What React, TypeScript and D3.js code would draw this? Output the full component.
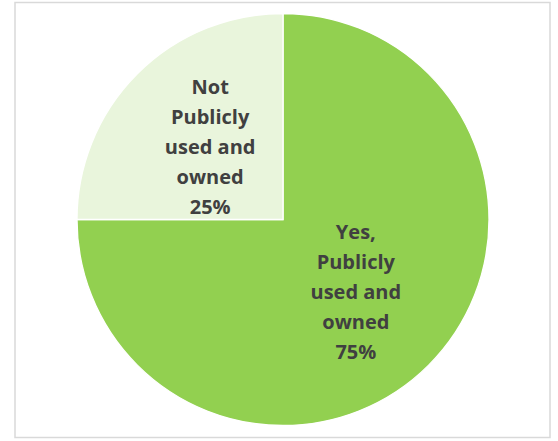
import React from "react";
import * as d3 from "d3";

const categories = ["Yes,\nPublicly\nused and\nowned", "Not\nPublicly\nused and\nowned"];
const values = [75, 25];
const percentLabels = ["75%", "25%"];
const colors = ["#92d050", "#e9f5dc"];

const W = 558;
const H = 441;

export default function App() {
  const cx = 283;
  const cy = 219.5;
  const r = 206;
  const pie = d3.pie<number>().sort(null).value((d) => d)(values);
  const arc = d3.arc<d3.PieArcDatum<number>>().innerRadius(0).outerRadius(r);
  const lineH = 30;
  return (
    <svg
      width={W}
      height={H}
      style={{ position: "absolute", left: 0, top: 0, background: "#fff" }}
    >
      <rect x={15} y={2.5} width={535} height={435} fill="#fff" stroke="#d9d9d9" strokeWidth={1.5} />
      <g transform={`translate(${cx},${cy})`}>
        {pie.map((p, i) => (
          <path key={i} d={arc(p) || ""} fill={colors[i]} stroke="#fff" strokeWidth={1.3} />
        ))}
        {pie.map((p, i) => {
          const [x, y] = arc.centroid(p);
          const lines = categories[i].split("\n").concat(percentLabels[i]);
          const n = lines.length;
          return (
            <text
              key={"t" + i}
              x={x}
              y={y}
              textAnchor="middle"
              fontFamily="'Open Sans', sans-serif"
              fontWeight="bold"
              fontSize={20}
              fill="#404040"
            >
              {lines.map((l, j) => (
                <tspan key={j} x={x} y={y + (j - (n - 1) / 2) * lineH + 7}>
                  {l}
                </tspan>
              ))}
            </text>
          );
        })}
      </g>
    </svg>
  );
}
